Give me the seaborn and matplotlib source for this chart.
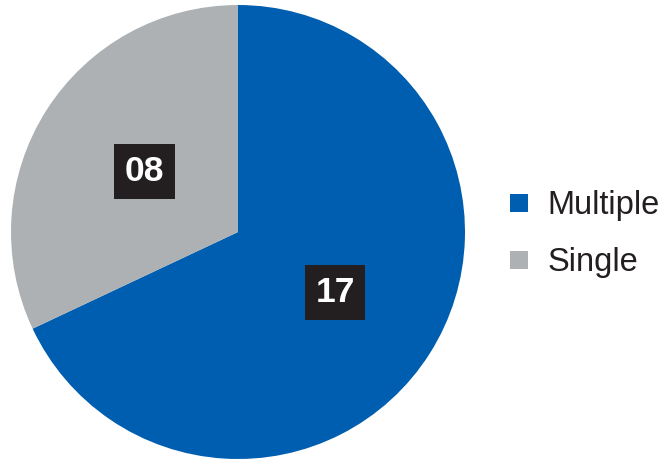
import numpy as np
import matplotlib
matplotlib.use("Agg")
import matplotlib.pyplot as plt
import seaborn as sns
from matplotlib.lines import Line2D

categories = ["Multiple", "Single"]
values = [17, 8]
value_labels = ["17", "08"]
colors = ["#005EB0", "#AEB1B4"]

sns.set_theme(style="white")
plt.rcParams['font.family'] = ['Liberation Sans', 'DejaVu Sans']

W, H = 665, 459
fig = plt.figure(figsize=(W / 100, H / 100), dpi=100)
cx, cy, r = 238, 232, 227
ax = fig.add_axes([(cx - r) / W, (H - cy - r) / H, 2 * r / W, 2 * r / H])
wedges, _ = ax.pie(values, colors=colors, startangle=90, counterclock=False,
                   radius=1, wedgeprops=dict(linewidth=0))
ax.set_xlim(-1, 1)
ax.set_ylim(-1, 1)
ax.set_aspect('equal')
ax.axis('off')

for w, lab in zip(wedges, value_labels):
    ang = np.deg2rad((w.theta1 + w.theta2) / 2)
    d = 0.497
    ax.text(d * np.cos(ang) + 0.008, d * np.sin(ang), lab, ha='center', va='center',
            color='white', fontsize=25.5, fontweight='bold',
            bbox=dict(boxstyle='square,pad=0.3', fc='#231F20', ec='none'))

handles = [Line2D([0], [0], marker='s', linestyle='none', markersize=13.5,
                  markerfacecolor=c, markeredgewidth=0) for c in colors]
fig.legend(handles, categories, loc='center left',
           bbox_to_anchor=(477 / W, 1 - 234 / H), frameon=False,
           fontsize=23.5, handletextpad=0.45, labelspacing=0.8,
           handlelength=0.8, labelcolor='#231F20')

fig.savefig("out.png", dpi=100)
